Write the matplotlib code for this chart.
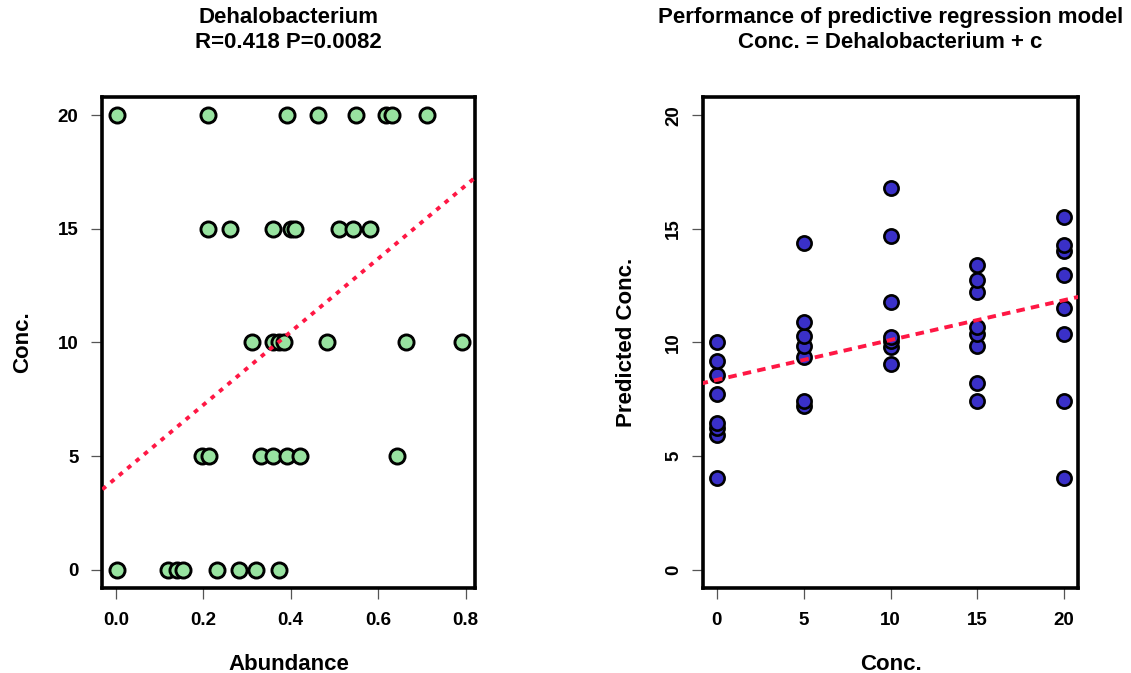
import matplotlib
matplotlib.use("Agg")
import matplotlib.pyplot as plt
import numpy as np

plt.rcParams["font.family"] = ["Liberation Sans", "DejaVu Sans"]
plt.rcParams["font.weight"] = "bold"

# Dehalobacterium relative abundance per sample, grouped by concentration
abundance = [
    0.002, 0.119, 0.139, 0.153, 0.231, 0.282, 0.321, 0.373,   # 0
    0.198, 0.213, 0.333, 0.360, 0.392, 0.421, 0.643,          # 5
    0.311, 0.360, 0.373, 0.384, 0.482, 0.664, 0.792,          # 10
    0.211, 0.261, 0.360, 0.400, 0.410, 0.510, 0.543, 0.582,   # 15
    0.002, 0.211, 0.392, 0.462, 0.550, 0.619, 0.632, 0.712,   # 20
]
conc = [0] * 8 + [5] * 7 + [10] * 7 + [15] * 8 + [20] * 8

# model output for each sample
predicted = [
    4.06, 5.94, 6.25, 6.46, 7.74, 8.55, 9.19, 10.03,
    7.20, 7.42, 9.34, 9.85, 10.30, 10.88, 14.38,
    9.04, 9.78, 10.07, 10.22, 11.80, 14.69, 16.78,
    7.42, 8.23, 9.85, 10.37, 10.66, 12.24, 12.76, 13.42,
    4.06, 7.42, 10.37, 11.50, 12.95, 14.01, 14.28, 15.53,
]

r_value = 0.418
p_value = 0.0082
taxon = "Dehalobacterium"

abundance = np.array(abundance)
conc = np.array(conc)
predicted = np.array(predicted)

fig = plt.figure(figsize=(11.31, 6.73), dpi=100)
ax1 = fig.add_axes([0.0902, 0.1263, 0.3298, 0.7296])
ax2 = fig.add_axes([0.6216, 0.1263, 0.3316, 0.7296])


def style_axes(ax):
    for s in ax.spines.values():
        s.set_linewidth(2.6)
        s.set_color("black")
    ax.tick_params(direction="out", length=8, width=0.9, color="#555555",
                   labelsize=13.5, pad=9)
    for lab in ax.get_xticklabels() + ax.get_yticklabels():
        lab.set_fontweight("bold")


# abundance vs concentration with least-squares line
ax1.scatter(abundance, conc, s=118, c="#98E3A0", edgecolors="black",
            linewidths=2.1, zorder=3)
slope, icpt = np.polyfit(abundance, conc, 1)
xl = np.array([-0.05, 0.85])
ax1.plot(xl, icpt + slope * xl, color="#FF1744", lw=2.8,
         linestyle=(0, (1.2, 1.6)), zorder=4)
ax1.set_xlim(-0.0316, 0.8216)
ax1.set_ylim(-0.8, 20.8)
ax1.set_xticks([0.0, 0.2, 0.4, 0.6, 0.8])
ax1.set_xticklabels(["0.0", "0.2", "0.4", "0.6", "0.8"])
ax1.set_yticks([0, 5, 10, 15, 20])
style_axes(ax1)
ax1.set_xlabel("Abundance", fontsize=16, fontweight="bold", labelpad=18)
ax1.set_ylabel("Conc.", fontsize=16, fontweight="bold", labelpad=18)
ax1.set_title(f"{taxon}\nR={r_value} P={p_value}", fontsize=16,
              fontweight="bold", pad=35, linespacing=1.3)

# predicted vs observed concentration
ax2.scatter(conc, predicted, s=105, c="#3A30C8", edgecolors="black",
            linewidths=1.9, zorder=3)
s2, i2 = np.polyfit(conc, predicted, 1)
xr = np.array([-1.0, 21.0])
ax2.plot(xr, i2 + s2 * xr, color="#FF1744", lw=2.8,
         linestyle=(0, (2.2, 1.6)), zorder=4)
ax2.set_xlim(-0.8, 20.8)
ax2.set_ylim(-0.8, 20.8)
ax2.set_xticks([0, 5, 10, 15, 20])
ax2.set_yticks([0, 5, 10, 15, 20])
style_axes(ax2)
for lab in ax2.get_yticklabels():
    lab.set_rotation(90)
    lab.set_va("center")
ax2.tick_params(axis="y", pad=7)
ax2.set_xlabel("Conc.", fontsize=16, fontweight="bold", labelpad=18)
ax2.set_ylabel("Predicted Conc.", fontsize=16, fontweight="bold", labelpad=20)
ax2.set_title(f"Performance of predictive regression model\nConc. = {taxon} + c",
              fontsize=16, fontweight="bold", pad=35, linespacing=1.3)

fig.savefig("out.png", dpi=100, facecolor="white")
